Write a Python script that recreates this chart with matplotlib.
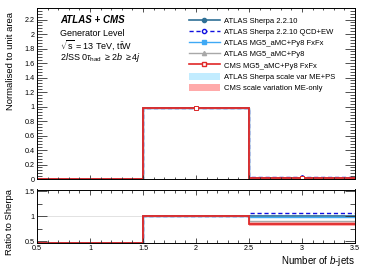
import numpy as np
import matplotlib
matplotlib.use("Agg")
import matplotlib.pyplot as plt
from matplotlib.lines import Line2D
from matplotlib.patches import Patch
from matplotlib.ticker import MultipleLocator

plt.rcParams['font.family'] = ['Liberation Sans', 'DejaVu Sans']
plt.rcParams['mathtext.fontset'] = 'custom'
plt.rcParams['mathtext.rm'] = 'Liberation Sans'
plt.rcParams['mathtext.it'] = 'Liberation Sans:italic'

# ---- data ----
bin_edges = [0.5, 1.5, 2.5, 3.5]
sherpa = [0.0, 0.980, 0.0200]
sherpa_qcdew = [0.0, 0.979, 0.0212]
mg5_fxfx = [0.0, 0.980, 0.0196]
mg5_py8 = [0.0, 0.982, 0.0182]
cms_fxfx = [0.0, 0.983, 0.0167]
sherpa_band_lo = [0.0, 0.979, 0.0191]
sherpa_band_hi = [0.0, 0.981, 0.0205]
cms_band_lo = [0.0, 0.982, 0.0160]
cms_band_hi = [0.0, 0.984, 0.0175]

labels = ["ATLAS Sherpa 2.2.10", "ATLAS Sherpa 2.2.10 QCD+EW",
          "ATLAS MG5_aMC+Py8 FxFx", "ATLAS MG5_aMC+Py8",
          "CMS MG5_aMC+Py8 FxFx", "ATLAS Sherpa scale var ME+PS",
          "CMS scale variation ME-only"]

c_sherpa = '#2f7096'
c_qcdew = '#1010e0'
c_fxfx = '#3fa9f5'
c_py8 = '#a8a8a8'
c_cms = '#e02828'
c_sband = '#c2ecff'
c_cband = '#ffaaaa'

W, H = 374, 268
fig = plt.figure(figsize=(W/100, H/100), dpi=100)
L, R = 37/W, 355/W
ax = fig.add_axes([L, 1-179/H, R-L, (179-8)/H])
rax = fig.add_axes([L, 1-243.3/H, R-L, (243.3-189.5)/H])

edges = np.array(bin_edges)
centers = 0.5*(edges[:-1]+edges[1:])
ref = np.array(sherpa)

series = [
    (np.array(sherpa), c_sherpa, '-', 'o', c_sherpa, 1.2),
    (np.array(sherpa_qcdew), c_qcdew, (0, (3, 2)), 'o', 'white', 1.0),
    (np.array(mg5_fxfx), c_fxfx, '-', 's', c_fxfx, 1.0),
    (np.array(mg5_py8), c_py8, '-', '^', c_py8, 1.0),
    (np.array(cms_fxfx), c_cms, '-', 's', 'white', 1.3),
]

def ratio(v):
    with np.errstate(divide='ignore', invalid='ignore'):
        r = np.where(ref > 0, v/np.where(ref > 0, ref, 1), 0.0)
    return r

rlo, rhi = 0.455, 1.53

# bands
for lo, hi, col in [(sherpa_band_lo, sherpa_band_hi, c_sband), (cms_band_lo, cms_band_hi, c_cband)]:
    lo = np.array(lo); hi = np.array(hi)
    ax.stairs(hi, edges, baseline=lo, fill=True, color=col, lw=0)
    rl, rh = ratio(lo), ratio(hi)
    m = ref > 0
    rax.stairs(np.where(m, rh, rlo), edges, baseline=np.where(m, rl, rlo), fill=True, color=col, lw=0)

rax.axhline(1.0, color='#dddddd', lw=0.6, zorder=1)

for v, col, ls, mk, mfc, lw in series:
    ax.stairs(v, edges, color=col, ls=ls, lw=lw, baseline=None)
    m = v > 0
    ax.plot(centers[m], v[m], ls='none', marker=mk, ms=2.6, mfc=mfc, mec=col, mew=0.7)
    r = np.clip(ratio(v), rlo + 0.004, rhi)
    rax.stairs(r, edges, color=col, ls=ls, lw=lw, baseline=None)

for a in (ax, rax):
    a.set_xlim(0.5, 3.5)
    a.xaxis.set_major_locator(MultipleLocator(0.5))
    a.xaxis.set_minor_locator(MultipleLocator(0.1))
    a.tick_params(which='both', direction='in', top=True, right=True, labelsize=5.2, width=0.6, pad=1.5, colors='#333333', labelcolor='black')
    for s in a.spines.values():
        s.set_linewidth(0.7)
ax.set_ylim(0, 2.36)
ax.yaxis.set_major_locator(MultipleLocator(0.2))
ax.yaxis.set_minor_locator(MultipleLocator(0.04))
ax.tick_params(axis='x', which='major', length=3.0)
ax.tick_params(axis='x', which='minor', length=1.6)
ax.tick_params(axis='y', which='major', length=7)
ax.tick_params(axis='y', which='minor', length=3.5)
ax.tick_params(axis='x', labelbottom=False)
ax.set_yticks(np.arange(0, 2.21, 0.2))
ax.set_yticklabels(['0', '0.2', '0.4', '0.6', '0.8', '1', '1.2', '1.4', '1.6', '1.8', '2', '2.2'])

rax.set_ylim(rlo, rhi)
rax.set_yticks([0.5, 1.0, 1.5])
rax.set_yticklabels(['0.5', '1', '1.5'])
rax.yaxis.set_minor_locator(MultipleLocator(0.25))
rax.tick_params(axis='x', which='major', length=3.6)
rax.tick_params(axis='x', which='minor', length=2.0)
rax.tick_params(axis='y', which='major', length=7)
rax.tick_params(axis='y', which='minor', length=3.5)
rax.set_xticks([0.5, 1, 1.5, 2, 2.5, 3, 3.5])
rax.set_xticklabels(['0.5', '1', '1.5', '2', '2.5', '3', '3.5'])

fig.text(11/W, 1-61/H, 'Normalised to unit area', rotation=90, ha='center', va='center', fontsize=6.8)
fig.text(10/W, 1-222/H, 'Ratio to Sherpa', rotation=90, ha='center', va='center', fontsize=6.8)
fig.text(355/W, 1-261/H, r'Number of $\mathit{b}$-jets', ha='right', va='center', fontsize=7)

fig.text(60/W, 1-20/H, 'ATLAS + CMS', fontsize=7, fontweight='bold', fontstyle='italic', va='center')
fig.text(60/W, 1-33/H, 'Generator Level', fontsize=6.5, va='center')
fig.text(60/W, 1-45.5/H, r'$\sqrt{\mathrm{s}}$ = 13 TeV, t$\bar{\mathrm{t}}$W', fontsize=6.5, va='center')
fig.text(60/W, 1-58/H, r'2$\mathit{l}$SS 0$\tau_{\mathrm{had}}$ $\geq$2$\mathit{b}$ $\geq$4$\mathit{j}$', fontsize=6.5, va='center')

handles = [
    Line2D([], [], color=c_sherpa, lw=1.2, marker='o', ms=3, mfc=c_sherpa, mec=c_sherpa),
    Line2D([], [], color=c_qcdew, lw=1.0, ls=(0, (3, 2)), marker='o', ms=3, mfc='white', mec=c_qcdew),
    Line2D([], [], color=c_fxfx, lw=1.0, marker='s', ms=3, mfc=c_fxfx, mec=c_fxfx),
    Line2D([], [], color=c_py8, lw=1.0, marker='^', ms=3, mfc=c_py8, mec=c_py8),
    Line2D([], [], color=c_cms, lw=1.2, marker='s', ms=3, mfc='white', mec=c_cms),
    Patch(facecolor=c_sband, edgecolor='none'),
    Patch(facecolor=c_cband, edgecolor='none'),
]
fig.legend(handles, labels, loc='upper left', bbox_to_anchor=(189/W, 1-16.5/H),
           frameon=False, fontsize=5.5, handlelength=4.0, handleheight=1.0,
           handletextpad=0.6, labelspacing=0.42, borderpad=0, borderaxespad=0)

fig.savefig('out.png', dpi=100)
